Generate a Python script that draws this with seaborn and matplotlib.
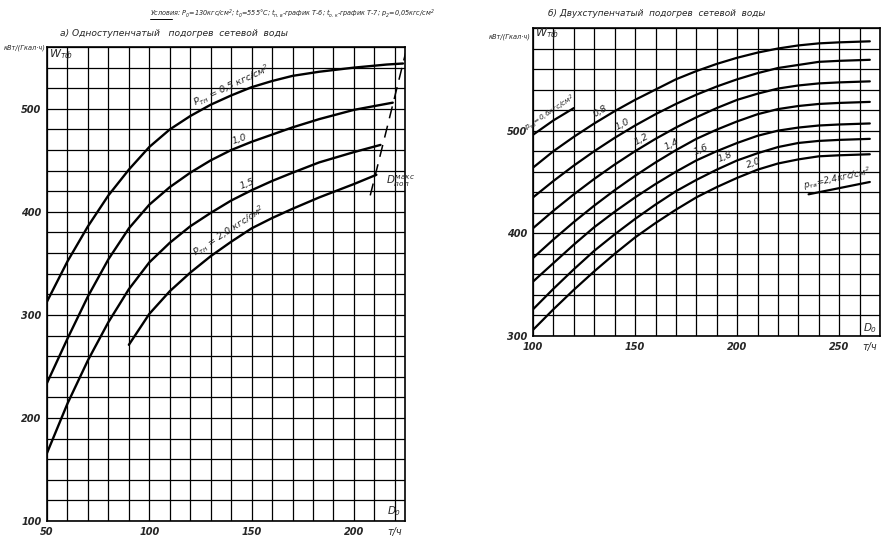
import matplotlib
matplotlib.use("Agg")
import matplotlib.pyplot as plt
import seaborn as sns
import pandas as pd
from matplotlib.lines import Line2D

# а) одноступенчатый подогрев: D0 (т/ч) -> W_тф (кВт/(Гкал·ч))
a_x_05 = [50, 60, 70, 80, 90, 100, 110, 120, 130, 140, 150, 160, 170, 183, 200, 216, 224]
a_w_05 = [313, 352, 386, 416, 441, 463, 480, 493, 504, 513, 521, 527, 532, 536, 540, 543, 544]
a_x_10 = [50, 60, 70, 80, 90, 100, 110, 120, 130, 140, 150, 160, 170, 183, 200, 219]
a_w_10 = [234, 277, 318, 354, 384, 407, 424, 438, 450, 460, 468, 475, 482, 490, 499, 506]
a_x_15 = [50, 60, 70, 80, 90, 100, 110, 120, 130, 140, 150, 160, 170, 183, 200, 213]
a_w_15 = [166, 214, 256, 293, 325, 351, 370, 386, 399, 411, 421, 430, 438, 448, 458, 465]
a_x_20 = [90, 100, 110, 120, 130, 140, 150, 160, 170, 183, 200, 211]
a_w_20 = [271, 301, 323, 341, 357, 371, 384, 394, 403, 414, 427, 436]
# граница D_пол^макс
a_dash_x = [208, 225.5]
a_dash_w = [416, 556]

# б) двухступенчатый подогрев
b_x = [100, 110, 120, 130, 140, 150, 160, 170, 180, 190, 200, 210, 220, 230, 240, 250, 265]
b_x_06 = [100, 110, 120]
b_w_06 = [496, 510, 522]
b_w_08 = [464, 480, 494, 507, 519, 530, 540, 550, 558, 565, 571, 576, 580, 583, 585, 586, 587]
b_w_10 = [435, 451, 466, 480, 493, 505, 516, 526, 535, 543, 550, 556, 561, 564, 567, 568, 569]
b_w_12 = [405, 422, 438, 453, 467, 480, 492, 503, 513, 522, 530, 536, 541, 544, 546, 547, 548]
b_w_14 = [376, 394, 411, 427, 442, 456, 469, 481, 492, 501, 509, 516, 521, 524, 526, 527, 528]
b_w_16 = [353, 371, 389, 406, 421, 435, 448, 460, 471, 480, 488, 495, 500, 503, 505, 506, 507]
b_w_18 = [326, 346, 365, 383, 399, 414, 428, 441, 452, 462, 471, 478, 484, 488, 490, 491, 492]
b_w_20 = [306, 326, 345, 363, 380, 396, 410, 423, 435, 445, 454, 462, 468, 472, 475, 476, 477]
b_x_24 = [235, 250, 265]
b_w_24 = [438, 444, 450]

sns.set_style("white")
plt.rcParams["font.family"] = ["DejaVu Sans"]
plt.rcParams["font.style"] = "italic"
plt.rcParams["mathtext.fontset"] = "custom"
plt.rcParams["mathtext.rm"] = "DejaVu Sans:italic"
plt.rcParams["mathtext.it"] = "DejaVu Sans:italic"


def make_df(curves):
    rows = []
    for p, xs, ws in curves:
        for x, w in zip(xs, ws):
            rows.append({"p": p, "D0": x, "W": w})
    return pd.DataFrame(rows)


df_a = make_df([("0.5", a_x_05, a_w_05), ("1.0", a_x_10, a_w_10),
                ("1.5", a_x_15, a_w_15), ("2.0", a_x_20, a_w_20)])
df_b = make_df([("0.6", b_x_06, b_w_06), ("0.8", b_x, b_w_08), ("1.0", b_x, b_w_10),
                ("1.2", b_x, b_w_12), ("1.4", b_x, b_w_14), ("1.6", b_x, b_w_16),
                ("1.8", b_x, b_w_18), ("2.0", b_x, b_w_20), ("2.4", b_x_24, b_w_24)])

fig = plt.figure(figsize=(8.89, 5.38), dpi=100)
ax_a = fig.add_axes([0.0529, 0.0316, 0.4027, 0.881])
ax_b = fig.add_axes([0.5996, 0.3755, 0.3903, 0.5725])

fs = 7


def style_axes(ax, xlim, ylim, xmaj, ymaj, xmin, ymin):
    ax.set_xlim(*xlim)
    ax.set_ylim(*ylim)
    ax.set_xticks(xmaj)
    ax.set_yticks(ymaj)
    ax.set_xticks(xmin, minor=True)
    ax.set_yticks(ymin, minor=True)
    ax.grid(True, which="both", color="black", linewidth=0.9)
    ax.set_axisbelow(True)
    ax.tick_params(which="major", direction="out", length=3, width=0.9,
                   labelsize=fs, pad=1, color="black")
    ax.tick_params(which="minor", length=0)
    for lab in ax.get_xticklabels() + ax.get_yticklabels():
        lab.set_fontweight("bold")
    for s in ax.spines.values():
        s.set_visible(True)
        s.set_color("black")
        s.set_linewidth(1.2)
    ax.set_xlabel("")
    ax.set_ylabel("")


sns.lineplot(data=df_a, x="D0", y="W", units="p", estimator=None,
             color="black", linewidth=1.7, ax=ax_a, legend=False)
sns.lineplot(x=a_dash_x, y=a_dash_w, ax=ax_a, color="black",
             linewidth=1.1, linestyle=(0, (8, 5)))
style_axes(ax_a, (50, 225), (100, 560), [50, 100, 150, 200], [100, 200, 300, 400, 500],
           list(range(50, 221, 10)), list(range(100, 561, 20)))

sns.lineplot(data=df_b, x="D0", y="W", units="p", estimator=None,
             color="black", linewidth=1.6, ax=ax_b, legend=False)
style_axes(ax_b, (100, 270), (300, 600), [100, 150, 200, 250], [300, 400, 500],
           list(range(100, 271, 10)), list(range(300, 601, 20)))

# curve labels, panel a
lab = dict(fontsize=6.8, ha="center", va="bottom", rotation_mode="anchor")
ax_a.text(142, 516, "$P_{тн}$ = 0,5 кгс/см$^2$", rotation=25, **lab)
ax_a.text(145, 466, "1,0", rotation=19, **lab)
ax_a.text(148.5, 423, "1,5", rotation=22, **lab)
ax_a.text(141, 375, "$P_{тн}$ = 2,0 кгс/см$^2$", rotation=33, **lab)
ax_a.text(215.5, 430, "$D_{пол}^{макс}$", fontsize=7.5, ha="left", va="center")
ax_a.text(51, 551, "$W_{тф}$", fontsize=8, ha="left", va="center")
ax_a.text(219.5, 110, "$D_0$", fontsize=7.5, ha="center", va="center")
ax_a.annotate("т/ч", xy=(220, 0), xycoords=("data", "axes fraction"),
              xytext=(0, -8), textcoords="offset points", fontsize=fs,
              ha="center", va="center")

# curve labels, panel b
ax_b.text(110, 512, "$p_{тв}$=0,6кгс/см$^2$", rotation=33, fontsize=5.3,
          ha="center", va="bottom", rotation_mode="anchor")
for x, y, t, r in [(134, 515, "0,8", 30), (145, 502, "1,0", 28), (154, 488, "1,2", 28),
                   (169, 483, "1,4", 27), (183, 477, "1,6", 24), (195, 470, "1,8", 23),
                   (209, 464, "2,0", 20)]:
    ax_b.text(x, y, t, rotation=r, **lab)
ax_b.text(250, 446, "$p_{тв}$=2,4кгс/см$^2$", rotation=12, fontsize=6.3,
          ha="center", va="bottom", rotation_mode="anchor")
ax_b.text(101, 593, "$W_{тф}$", fontsize=8, ha="left", va="center")
ax_b.text(265, 308, "$D_0$", fontsize=7.5, ha="center", va="center")
ax_b.annotate("т/ч", xy=(265, 0), xycoords=("data", "axes fraction"),
              xytext=(0, -8), textcoords="offset points", fontsize=fs,
              ha="center", va="center")

# headings
fig.text(150 / 889, 1 - 14 / 538,
         "Условия: $P_0$=130кгс/см$^2$; $t_0$=555°С; $t_{п.в}$-график Т-6; "
         "$t_{о.к}$-график Т-7; $p_2$=0,05кгс/см$^2$",
         fontsize=4.7, ha="left", va="center")
fig.add_artist(Line2D([150 / 889, 172 / 889], [1 - 19 / 538, 1 - 19 / 538],
                      color="black", linewidth=0.7))
fig.text(60 / 889, 1 - 33 / 538, "а) Одноступенчатый   подогрев  сетевой  воды",
         fontsize=6.6, ha="left", va="center")
fig.text(548 / 889, 1 - 14 / 538, "б) Двухступенчатый  подогрев  сетевой  воды",
         fontsize=6.4, ha="left", va="center")
fig.text(46 / 889, 1 - 48 / 538, "кВт/(Гкал·ч)", fontsize=4.8,
         ha="right", va="center")
fig.text(531 / 889, 1 - 37 / 538, "кВт/(Гкал·ч)", fontsize=4.8,
         ha="right", va="center")

fig.savefig("out.png", dpi=100)
plt.close(fig)
